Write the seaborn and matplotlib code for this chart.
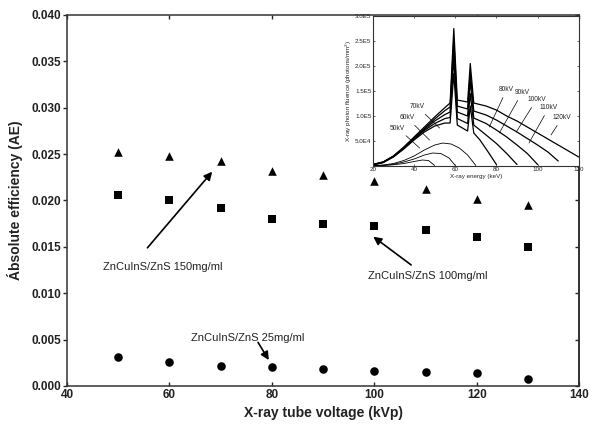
import matplotlib
matplotlib.use('Agg')
import matplotlib.pyplot as plt
import seaborn as sns
import pandas as pd

# Absolute efficiency vs tube voltage
voltage = [50, 60, 70, 80, 90, 100, 110, 120, 130]
ae_150 = [0.0252, 0.0248, 0.0243, 0.0232, 0.0227, 0.0221, 0.0212, 0.0202, 0.0195]
ae_100 = [0.0206, 0.0200, 0.0192, 0.0180, 0.0175, 0.0172, 0.0168, 0.0161, 0.0150]
ae_25 = [0.0031, 0.0026, 0.0022, 0.0020, 0.0018, 0.0016, 0.0015, 0.0014, 0.0008]

x_ticks = [40, 60, 80, 100, 120, 140]
y_ticks = [0.000, 0.005, 0.010, 0.015, 0.020, 0.025, 0.030, 0.035, 0.040]

# Inset: x-ray spectra (energy in keV, fluence in thousands)
e50 = [20, 25, 30, 35, 40, 44, 47, 50]
f50 = [0.3, 1, 2.5, 5, 9, 12, 11, 1]
e60 = [20, 25, 30, 35, 40, 45, 49, 53, 57, 60]
f60 = [0.4, 1.5, 3.5, 8, 14, 22, 26, 25, 16, 1]
e70 = [20, 25, 30, 35, 40, 45, 50, 54, 58, 62, 66, 70]
f70 = [0.5, 2, 5, 11, 20, 32, 42, 46, 44, 36, 22, 1]
e80 = [20, 25, 30, 35, 40, 45, 50, 55, 57.5, 59.3, 61, 66, 67.3, 69, 72, 76, 80]
f80 = [2, 7, 18, 34, 52, 68, 80, 86, 86, 185, 82, 70, 120, 66, 52, 28, 3]
e90 = [20, 25, 30, 35, 40, 45, 50, 55, 57.5, 59.3, 61, 66, 67.3, 69, 75, 80, 85, 90]
f90 = [2, 7, 19, 35, 54, 71, 85, 95, 97, 215, 95, 85, 145, 82, 62, 45, 25, 3]
e100 = [20, 25, 30, 35, 40, 45, 50, 55, 57.5, 59.3, 61, 66, 67.3, 69, 75, 80, 85, 90, 95, 100]
f100 = [3, 8, 19, 36, 55, 73, 90, 103, 108, 240, 108, 100, 170, 96, 85, 72, 58, 42, 25, 3]
e110 = [20, 25, 30, 35, 40, 45, 50, 55, 57.5, 59.3, 61, 66, 67.3, 69, 75, 80, 85, 90, 95, 100, 105, 110]
f110 = [3, 8, 20, 37, 56, 75, 94, 111, 118, 255, 120, 114, 188, 110, 102, 92, 80, 68, 55, 42, 28, 10]
e120 = [20, 25, 30, 35, 40, 45, 50, 55, 57.5, 59.3, 61, 66, 67.3, 69, 75, 80, 85, 90, 95, 100, 105, 110, 115, 120]
f120 = [3, 8, 20, 38, 58, 78, 98, 117, 126, 275, 132, 128, 205, 126, 120, 112, 100, 90, 78, 66, 54, 42, 30, 18]

inset_x_ticks = [20, 40, 60, 80, 100, 120]
inset_y_ticks = [0, 50, 100, 150, 200, 250, 300]
inset_y_labels = ['', '5.0E4', '1.0E5', '1.5E5', '2.0E5', '2.5E5', '3.0E5']

kv_labels = ['50kV', '60kV', '70kV', '80kV', '90kV', '100kV', '110kV', '120kV']
kv_text_pos = [(32, 76), (36.5, 97), (41.5, 119), (85, 153), (92.5, 147), (99.5, 133), (105.5, 117), (112, 97)]
kv_arrow_to = [(42.7, 36), (47.5, 52), (52.4, 76), (76.5, 78), (81.4, 66), (89.6, 68), (95.8, 46), (106.5, 62)]

sns.set_theme(style='ticks')
plt.rcParams['font.family'] = ['Liberation Sans', 'DejaVu Sans']

fig = plt.figure(figsize=(5.9, 4.26), dpi=100)
ax = fig.add_axes([0.1136, 0.0939, 0.868, 0.8709])

df = pd.DataFrame({
    'voltage': voltage * 3,
    'ae': ae_150 + ae_100 + ae_25,
    'sample': ['150'] * 9 + ['100'] * 9 + ['25'] * 9,
})
sns.scatterplot(data=df[df['sample'] == '150'], x='voltage', y='ae', marker='^',
                s=38, color='black', edgecolor='black', linewidth=0, ax=ax)
sns.scatterplot(data=df[df['sample'] == '100'], x='voltage', y='ae', marker='s',
                s=38, color='black', edgecolor='black', linewidth=0, ax=ax)
sns.scatterplot(data=df[df['sample'] == '25'], x='voltage', y='ae', marker='o',
                s=38, color='black', edgecolor='black', linewidth=0, ax=ax)

ax.set_xlim(40, 140)
ax.set_ylim(0, 0.040)
ax.set_xticks(x_ticks)
ax.set_yticks(y_ticks)
ax.set_yticklabels([f'{v:.3f}' for v in y_ticks])
for lab in ax.get_xticklabels() + ax.get_yticklabels():
    lab.set_fontweight('bold')
    lab.set_fontsize(8.5)
    lab.set_color('#222222')
ax.set_xlabel('X-ray tube voltage (kVp)', fontsize=10, fontweight='bold', color='#222222', labelpad=4)
ax.set_ylabel('Ábsolute efficiency (AE)', fontsize=10, fontweight='bold', color='#222222', labelpad=6)
for sp in ax.spines.values():
    sp.set_linewidth(1.1)
    sp.set_color('#333333')
ax.tick_params(axis='y', which='both', direction='out', length=3, width=1, left=True, right=False, pad=1)
ax.tick_params(axis='x', which='both', direction='in', length=3, width=1, bottom=True, top=True, pad=2)
ax_r = ax.secondary_yaxis('right')
ax_r.set_yticks(y_ticks)
ax_r.tick_params(direction='in', length=3, width=1, labelright=False)

# annotations
arrow = dict(arrowstyle='-|>', color='black', lw=1.2, mutation_scale=12, shrinkA=0, shrinkB=0)
ax.annotate('', xy=(68.35, 0.0231), xytext=(55.7, 0.0149), arrowprops=arrow)
ax.text(58.6, 0.0128, 'ZnCuInS/ZnS 150mg/ml', fontsize=8, ha='center', va='center', color='#222222')
ax.annotate('', xy=(99.8, 0.0161), xytext=(107.2, 0.01305), arrowprops=arrow)
ax.text(110.5, 0.0119, 'ZnCuInS/ZnS 100mg/ml', fontsize=8, ha='center', va='center', color='#222222')
ax.annotate('', xy=(79.4, 0.0028), xytext=(77.3, 0.0047), arrowprops=arrow)
ax.text(75.3, 0.0052, 'ZnCuInS/ZnS 25mg/ml', fontsize=8, ha='center', va='center', color='#222222')

# inset spectra
ins = fig.add_axes([0.632, 0.6103, 0.349, 0.352])
thin = [(e50, f50), (e60, f60), (e70, f70)]
thick = [(e80, f80), (e90, f90), (e100, f100), (e110, f110), (e120, f120)]
for e, f in thin:
    sns.lineplot(x=e, y=f, color='black', lw=0.6, ax=ins, sort=False, estimator=None)
for e, f in thick:
    sns.lineplot(x=e, y=f, color='black', lw=0.9, ax=ins, sort=False, estimator=None)
ins.set_xlim(20, 120)
ins.set_ylim(0, 300)
ins.set_xticks(inset_x_ticks)
ins.set_yticks(inset_y_ticks)
ins.set_yticklabels(inset_y_labels)
ins.tick_params(labelsize=4.5, direction='in', length=1.5, width=0.5, pad=1,
                top=True, right=True)
ins.set_xlabel('X-ray energy (keV)', fontsize=4.5, labelpad=1)
ins.set_ylabel('X-ray photon fluence (photons/mm$^2$)', fontsize=4.5, labelpad=1)
for sp in ins.spines.values():
    sp.set_linewidth(0.8)
    sp.set_color('#333333')
for lab, tpos, apos in zip(kv_labels, kv_text_pos, kv_arrow_to):
    ins.annotate(lab, xy=apos, xytext=tpos, fontsize=4.8, ha='center', va='center',
                 arrowprops=dict(arrowstyle='-', color='black', lw=0.5, shrinkA=1, shrinkB=0))

fig.savefig('out.png', dpi=100)
